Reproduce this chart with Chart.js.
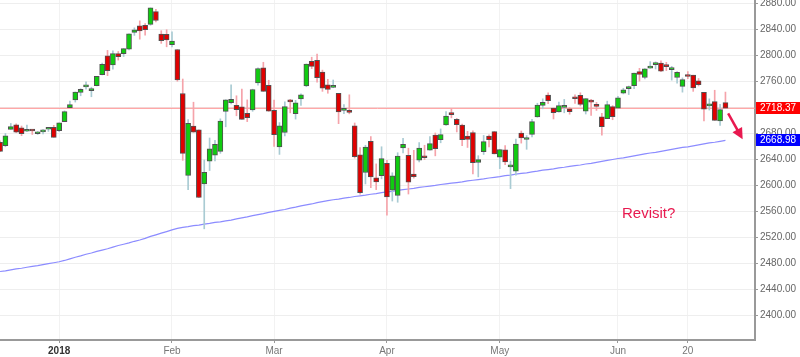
<!DOCTYPE html>
<html>
<head>
<meta charset="utf-8">
<script src="https://cdn.jsdelivr.net/npm/chart.js@4/dist/chart.umd.min.js"></script>
<style>
html,body{margin:0;padding:0;background:#fff;}
#wrap{width:800px;height:357px;}
</style>
</head>
<body>
<div id="wrap"><canvas id="c" width="800" height="357"></canvas></div>
<script>
// ---- data ----
const dates = ['2017-12-14','2017-12-15','2017-12-18','2017-12-19','2017-12-20','2017-12-21','2017-12-22','2017-12-26','2017-12-27','2017-12-28','2017-12-29',
'2018-01-02','2018-01-03','2018-01-04','2018-01-05','2018-01-08','2018-01-09','2018-01-10','2018-01-11','2018-01-12','2018-01-16','2018-01-17','2018-01-18','2018-01-19','2018-01-22','2018-01-23','2018-01-24','2018-01-25','2018-01-26','2018-01-29','2018-01-30','2018-01-31',
'2018-02-01','2018-02-02','2018-02-05','2018-02-06','2018-02-07','2018-02-08','2018-02-09','2018-02-12','2018-02-13','2018-02-14','2018-02-15','2018-02-16','2018-02-20','2018-02-21','2018-02-22','2018-02-23','2018-02-26','2018-02-27','2018-02-28',
'2018-03-01','2018-03-02','2018-03-05','2018-03-06','2018-03-07','2018-03-08','2018-03-09','2018-03-12','2018-03-13','2018-03-14','2018-03-15','2018-03-16','2018-03-19','2018-03-20','2018-03-21','2018-03-22','2018-03-23','2018-03-26','2018-03-27','2018-03-28','2018-03-29',
'2018-04-02','2018-04-03','2018-04-04','2018-04-05','2018-04-06','2018-04-09','2018-04-10','2018-04-11','2018-04-12','2018-04-13','2018-04-16','2018-04-17','2018-04-18','2018-04-19','2018-04-20','2018-04-23','2018-04-24','2018-04-25','2018-04-26','2018-04-27','2018-04-30',
'2018-05-01','2018-05-02','2018-05-03','2018-05-04','2018-05-07','2018-05-08','2018-05-09','2018-05-10','2018-05-11','2018-05-14','2018-05-15','2018-05-16','2018-05-17','2018-05-18','2018-05-21','2018-05-22','2018-05-23','2018-05-24','2018-05-25','2018-05-29','2018-05-30','2018-05-31',
'2018-06-01','2018-06-04','2018-06-05','2018-06-06','2018-06-07','2018-06-08','2018-06-11','2018-06-12','2018-06-13','2018-06-14','2018-06-15','2018-06-18','2018-06-19','2018-06-20','2018-06-21','2018-06-22','2018-06-25','2018-06-26','2018-06-27','2018-06-28','2018-06-29'];

const opens = [2665.9,2660.6,2685.9,2692.7,2688.2,2683.0,2684.2,2679.1,2682.1,2686.1,2689.2,
2683.7,2697.9,2719.3,2731.3,2742.7,2751.2,2745.6,2753.0,2770.2,2799.0,2785.0,2802.4,2802.6,2809.2,2835.1,2845.4,2846.2,2847.5,2867.2,2832.7,2832.4,
2816.5,2808.9,2741.1,2614.8,2691.0,2685.0,2601.8,2636.8,2646.3,2652.0,2713.5,2727.1,2723.0,2720.5,2710.4,2715.8,2757.4,2780.5,2753.8,
2715.2,2658.9,2681.1,2730.2,2710.2,2732.8,2752.9,2790.5,2792.3,2774.1,2754.3,2750.6,2741.4,2715.1,2715.0,2691.4,2646.7,2619.4,2667.6,2611.3,2614.4,
2633.5,2592.2,2584.0,2657.4,2645.8,2617.2,2638.4,2643.9,2653.8,2676.9,2670.1,2692.7,2710.1,2701.2,2692.6,2675.4,2680.8,2634.9,2651.7,2675.5,2682.5,
2643.0,2654.2,2628.1,2621.5,2680.3,2670.3,2678.1,2705.0,2722.7,2738.5,2718.6,2712.6,2719.7,2717.4,2735.4,2738.3,2714.0,2730.9,2723.6,2705.1,2702.4,2721.0,
2718.7,2741.7,2748.5,2753.3,2774.8,2765.8,2780.2,2785.6,2787.9,2783.2,2777.8,2765.8,2752.0,2769.7,2769.3,2760.8,2742.9,2722.1,2728.5,2698.7,2727.1];

const highs = [2668.1,2679.6,2695.0,2694.4,2691.0,2692.6,2685.4,2682.7,2685.6,2687.7,2692.1,
2695.9,2714.4,2729.3,2743.5,2748.5,2759.1,2750.8,2767.6,2787.9,2807.5,2807.0,2805.8,2810.3,2833.0,2842.2,2853.0,2848.6,2872.9,2870.6,2837.8,2839.3,
2836.0,2808.9,2763.4,2701.0,2727.7,2685.3,2638.7,2672.6,2668.8,2702.1,2731.5,2754.4,2737.6,2747.8,2731.3,2747.8,2780.6,2789.2,2761.5,
2730.9,2696.3,2728.1,2732.1,2730.6,2740.5,2786.6,2797.0,2801.9,2777.1,2763.0,2761.9,2741.4,2724.2,2739.1,2695.7,2657.7,2661.4,2674.8,2632.7,2659.1,
2638.3,2619.1,2649.9,2672.1,2656.9,2653.6,2665.5,2661.4,2674.7,2680.3,2686.5,2713.3,2717.5,2702.8,2693.9,2682.9,2683.6,2645.3,2676.5,2677.4,2682.9,
2655.3,2660.9,2637.1,2670.9,2683.4,2676.3,2701.3,2726.1,2732.9,2742.1,2718.6,2727.8,2732.0,2719.5,2739.2,2742.2,2733.3,2732.0,2727.4,2710.7,2729.3,2722.5,
2736.9,2749.2,2752.6,2772.4,2779.9,2779.4,2790.2,2789.8,2791.5,2789.1,2782.8,2775.0,2765.1,2774.9,2769.3,2764.2,2742.9,2732.9,2746.1,2724.3,2743.3];

const lows = [2651.7,2659.1,2685.9,2680.7,2676.1,2682.4,2678.1,2678.0,2678.9,2682.7,2673.6,
2682.4,2697.8,2719.1,2727.9,2737.6,2747.9,2736.1,2752.8,2769.6,2768.6,2778.4,2792.6,2798.1,2808.1,2830.6,2824.8,2830.9,2846.2,2851.5,2818.3,2813.0,
2812.7,2760.0,2638.2,2593.1,2681.3,2580.6,2532.7,2622.5,2637.1,2648.9,2689.8,2725.1,2706.8,2701.3,2697.8,2713.7,2753.8,2744.2,2713.5,
2659.7,2647.3,2675.8,2711.3,2701.7,2722.7,2751.5,2779.3,2758.7,2744.4,2741.5,2750.0,2694.6,2710.1,2709.8,2641.6,2585.9,2601.8,2596.1,2593.1,2609.7,
2553.8,2575.5,2573.6,2649.6,2586.3,2610.8,2635.8,2639.3,2653.8,2645.1,2665.2,2692.1,2703.6,2681.9,2660.6,2658.0,2617.3,2612.7,2647.2,2659.0,2648.0,
2625.4,2631.7,2594.6,2615.3,2664.7,2655.2,2674.1,2704.5,2717.5,2725.5,2701.9,2712.2,2711.4,2709.2,2725.7,2721.9,2709.5,2707.4,2715.0,2676.8,2702.4,2700.7,
2718.7,2740.5,2739.5,2748.5,2760.2,2763.6,2779.9,2778.8,2774.7,2776.5,2761.7,2757.1,2743.2,2763.9,2744.4,2752.7,2698.7,2715.6,2699.4,2692.0,2718.0];

const closes = [2652.0,2675.8,2690.2,2681.5,2679.3,2684.6,2683.3,2680.5,2682.6,2687.5,2673.6,
2695.8,2713.1,2724.0,2743.2,2747.7,2751.3,2748.2,2767.6,2786.2,2776.4,2802.6,2798.0,2810.3,2833.0,2839.1,2837.5,2839.3,2872.9,2853.5,2822.4,2823.8,
2822.0,2762.1,2648.9,2695.1,2681.7,2581.0,2619.6,2656.0,2662.9,2698.6,2731.2,2732.2,2716.3,2701.3,2704.0,2747.3,2779.6,2744.3,2713.8,
2677.7,2691.3,2720.9,2728.1,2726.8,2739.0,2786.6,2783.0,2765.3,2749.5,2747.3,2752.0,2712.9,2716.9,2711.9,2643.7,2588.3,2658.6,2612.6,2605.0,2640.9,
2581.9,2614.5,2644.7,2662.8,2604.5,2613.2,2656.9,2642.2,2664.0,2656.3,2677.8,2706.4,2708.6,2693.1,2670.1,2670.3,2634.6,2639.4,2666.9,2669.9,2648.1,
2654.8,2635.7,2629.7,2663.4,2672.6,2671.9,2697.8,2723.1,2727.7,2730.1,2711.5,2722.5,2720.1,2713.0,2733.0,2724.4,2733.3,2727.8,2721.3,2689.9,2724.0,2705.3,
2734.6,2746.9,2748.8,2772.4,2770.4,2779.0,2782.0,2786.9,2775.6,2782.5,2779.7,2773.8,2762.6,2767.3,2749.8,2754.9,2717.1,2723.1,2699.6,2716.3,2718.37];

const ma200 = [2467,2468,2469.5,2471,2472,2473.5,2475,2476,2477.5,2479,2480.5,
2482,2484,2486.5,2489,2491,2493.5,2495.5,2498,2500,2502,2504.5,2507,2509,2511,2513.5,2515.5,2518,2521,2523.5,2526,2528.5,
2531,2533.5,2535,2536,2537.5,2538.5,2540,2541,2542.5,2543.5,2545,2546,2548,2549.5,2551,2553,2554.5,2556,2558,
2559.5,2561,2562.5,2564.5,2566,2568,2569.5,2571,2573,2574.5,2576,2577.5,2578.5,2580,2581,2582.5,2583.5,2584.5,2586,2587,2588.5,
2589.5,2590.5,2592,2593,2594,2595,2596.5,2597.5,2598.5,2599.5,2601,2602,2603,2604,2605,2606.5,2607.5,2608.5,2609.5,2611,2612,
2613,2614.5,2615.5,2617,2618,2619,2620.5,2621.5,2623,2624,2625,2626.5,2627.5,2629,2630,2631,2632.5,2633.5,2635,2636.5,2638,2639.5,
2641,2642,2643.5,2645,2646.5,2648,2649.5,2650.5,2652,2653.5,2655,2656.5,2658,2659,2660.5,2662,2663.5,2665,2666,2667.5,2668.98];

const xTickIndex = [11, 32, 51, 72, 93, 115, 128];
const xTickLabels = ['2018', 'Feb', 'Mar', 'Apr', 'May', 'Jun', '20'];
const yTickValues = [2400, 2440, 2480, 2520, 2560, 2600, 2640, 2680, 2720, 2760, 2800, 2840, 2880];
const annotationText = 'Revisit?';

// ---- build datasets ----
const n = closes.length;
const lastClose = closes[n - 1];
const lastMA = ma200[n - 1];
const up = closes.map((c, i) => c >= opens[i]);

const wickData = highs.map((h, i) => ({ x: i, y: [lows[i], h] }));
const bodyData = closes.map((c, i) => ({ x: i, y: [opens[i], c] }));
const maData = ma200.map((v, i) => ({ x: i, y: v }));

const X_MIN = -0.01, X_MAX = 140.5;
const Y_MIN = 2361.5, Y_MAX = 2885.1;
const FONT = "'Liberation Sans', Arial, sans-serif";

const overlay = {
  id: 'overlay',
  afterDraw(chart) {
    const ctx = chart.ctx;
    const xs = chart.scales.x, ys = chart.scales.y;
    const right = chart.chartArea.right;
    function tag(val, bg) {
      const y = Math.round(ys.getPixelForValue(val));
      ctx.save();
      ctx.fillStyle = bg;
      ctx.fillRect(right + 1, y - 6, chart.width - right - 1, 12);
      ctx.fillStyle = '#ffffff';
      ctx.font = '10px ' + FONT;
      ctx.textBaseline = 'middle';
      ctx.textAlign = 'left';
      ctx.fillText(val.toFixed(2), right + 5, y + 0.5);
      ctx.restore();
    }
    tag(lastClose, '#ff0000');
    tag(lastMA, '#0000ff');

    // annotation text
    ctx.save();
    ctx.fillStyle = '#e8194f';
    ctx.font = '15px ' + FONT;
    ctx.textBaseline = 'alphabetic';
    ctx.fillText(annotationText, xs.getPixelForValue(115.75), ys.getPixelForValue(2549.4));
    // arrow
    const x1 = xs.getPixelForValue(135.5), y1 = ys.getPixelForValue(2710.6);
    const x2 = xs.getPixelForValue(138.2), y2 = ys.getPixelForValue(2670.6);
    const ang = Math.atan2(y2 - y1, x2 - x1);
    const hl = 11, hw = 5.5;
    ctx.strokeStyle = '#e8194f';
    ctx.lineWidth = 2.5;
    ctx.beginPath();
    ctx.moveTo(x1, y1);
    ctx.lineTo(x2 - Math.cos(ang) * (hl - 2), y2 - Math.sin(ang) * (hl - 2));
    ctx.stroke();
    ctx.beginPath();
    ctx.moveTo(x2, y2);
    ctx.lineTo(x2 - Math.cos(ang) * hl + Math.sin(ang) * hw, y2 - Math.sin(ang) * hl - Math.cos(ang) * hw);
    ctx.lineTo(x2 - Math.cos(ang) * hl - Math.sin(ang) * hw, y2 - Math.sin(ang) * hl + Math.cos(ang) * hw);
    ctx.closePath();
    ctx.fillStyle = '#e8194f';
    ctx.fill();
    ctx.restore();
  }
};

new Chart(document.getElementById('c'), {
  type: 'bar',
  data: {
    datasets: [
      {
        type: 'bar', label: 'body', data: bodyData, order: 0, grouped: false,
        barThickness: 5, minBarLength: 2,
        backgroundColor: up.map(u => u ? '#10cc10' : '#e00000'),
        borderColor: '#505050', borderWidth: 1, borderSkipped: false
      },
      {
        type: 'bar', label: 'wick', data: wickData, order: 1, grouped: false,
        barThickness: 1,
        backgroundColor: up.map(u => u ? '#a9cbd3' : '#f5a3aa'),
        borderWidth: 0
      },
      {
        type: 'line', label: 'MA200', data: maData, order: 2,
        borderColor: '#8c8cff', borderWidth: 1.2, pointRadius: 0, tension: 0
      },
      {
        type: 'line', label: 'last', data: [{ x: X_MIN, y: lastClose }, { x: X_MAX, y: lastClose }], order: 3,
        borderColor: '#ff8c8c', borderWidth: 1, pointRadius: 0
      }
    ]
  },
  options: {
    responsive: false,
    animation: false,
    devicePixelRatio: 1,
    layout: { padding: 0 },
    plugins: { legend: { display: false }, tooltip: { enabled: false } },
    scales: {
      x: {
        type: 'linear', min: X_MIN, max: X_MAX, offset: false,
        afterBuildTicks(s) { s.ticks = xTickIndex.map(v => ({ value: v })); },
        afterFit(s) { s.height = 17; s.paddingLeft = 0; s.paddingRight = 0; },
        ticks: {
          autoSkip: false, maxRotation: 0, padding: 2,
          callback(v) { const k = xTickIndex.indexOf(v); return k >= 0 ? xTickLabels[k] : ''; },
          font(ctx) { return { family: FONT, size: 10, weight: (ctx.tick && ctx.tick.label === '2018') ? 'bold' : 'normal' }; },
          color(ctx) { return (ctx.tick && ctx.tick.label === '2018') ? '#333333' : '#777777'; }
        },
        grid: { offset: false, color: '#f2f2f2', tickColor: '#999999', tickLength: 3 },
        border: { color: '#999999', width: 2 }
      },
      y: {
        type: 'linear', position: 'right', min: Y_MIN, max: Y_MAX,
        afterBuildTicks(s) { s.ticks = yTickValues.map(v => ({ value: v })); },
        afterFit(s) { s.width = 45; s.paddingTop = 0; s.paddingBottom = 0; },
        ticks: {
          padding: 2,
          callback(v) { return Number(v).toFixed(2); },
          font: { family: FONT, size: 10 },
          color: '#666666'
        },
        grid: { offset: false, color: '#eeeeee', tickColor: '#999999', tickLength: 3 },
        border: { color: '#999999', width: 2 }
      }
    }
  },
  plugins: [overlay]
});
</script>
</body>
</html>
